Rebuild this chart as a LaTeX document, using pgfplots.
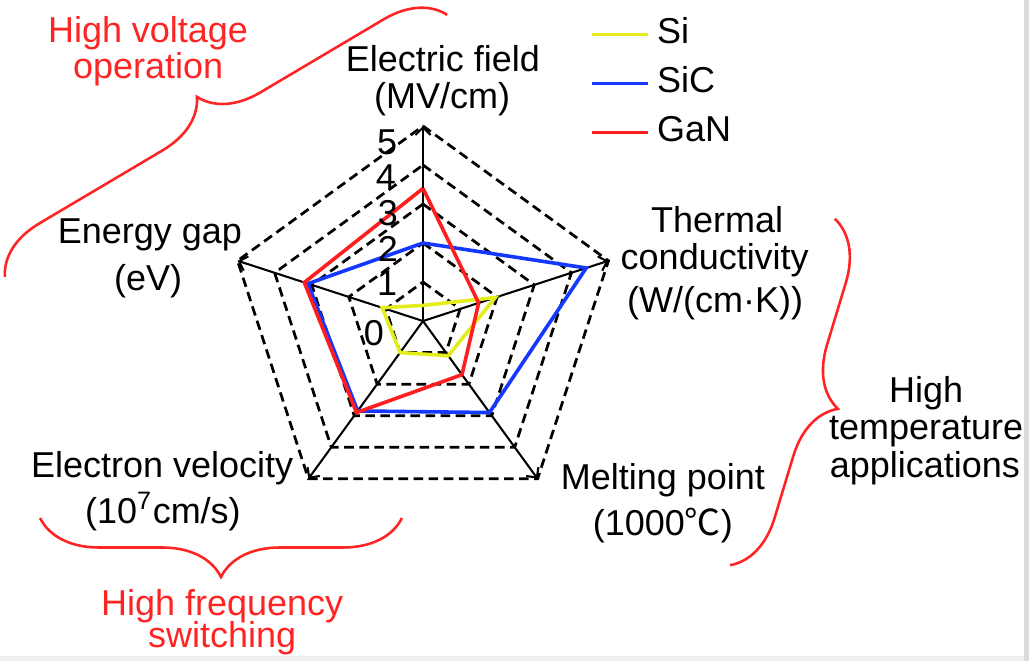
\documentclass[border=0pt]{standalone}
\usepackage{fontspec}
\setmainfont{Liberation Sans}
\newfontfamily\cjk{Noto Sans CJK SC}
\usepackage{pgfplots}
\pgfplotsset{compat=1.18}
\usetikzlibrary{arrows.meta,decorations.pathreplacing}

\definecolor{siY}{HTML}{E4EC1C}
\definecolor{sicB}{HTML}{1438FF}
\definecolor{ganR}{HTML}{FF1E1E}
\definecolor{noteR}{HTML}{FF2424}

\begin{document}
\begin{tikzpicture}[font=\fontsize{10.5}{12}\selectfont]
\begin{axis}[
    x=0.4cm, y=0.4cm,
    xmin=-10.846, xmax=15.538, ymin=-8.692, ymax=8.231,
    hide axis,
    no markers,
    legend style={at={(axis cs:4.28,7.79)}, anchor=north west, draw=none, fill=none,
        inner sep=0pt, row sep=4.6pt, column sep=2.3pt,
        nodes={inner sep=0pt, text height=7.5pt, text depth=2.2pt}},
    legend image code/.code={\draw[#1] (0cm,0cm) -- (0.565cm,0cm);},
    legend cell align=left,
]
% light border strips of the scan
\fill[black!14] (axis cs:15.41,-9) rectangle (axis cs:16,9);
\fill[black!6] (axis cs:-11,-9) rectangle (axis cs:15.41,-8.59);

% grid pentagons (angle, radius)
\pgfplotsset{ring/.style={data cs=polar, black, line width=0.8pt,
    dash pattern=on 2.8pt off 1.6pt, forget plot}}
\addplot[ring] coordinates {(90,1) (18,1) (-54,1) (-126,1) (162,1) (90,1)};
\addplot[ring] coordinates {(90,2) (18,2) (-54,2) (-126,2) (162,2) (90,2)};
\addplot[ring] coordinates {(90,3) (18,3) (-54,3) (-126,3) (162,3) (90,3)};
\addplot[ring] coordinates {(90,4) (18,4) (-54,4) (-126,4) (162,4) (90,4)};
\addplot[ring] coordinates {(90,5) (18,5) (-54,5) (-126,5) (162,5) (90,5)};

% spokes
\pgfplotsset{spoke/.style={data cs=polar, black, line width=0.6pt,
    -{Straight Barb[length=2.2pt,width=4.4pt]}, forget plot}}
\addplot[spoke] coordinates {(90,0) (90,5)};
\addplot[spoke] coordinates {(18,0) (18,5)};
\addplot[spoke] coordinates {(-54,0) (-54,5)};
\addplot[spoke] coordinates {(-126,0) (-126,5)};
\addplot[spoke] coordinates {(162,0) (162,5)};

% materials: electric field, thermal cond., melting point, electron velocity, energy gap
\addplot[data cs=polar, siY, line width=1.05pt]
    coordinates {(90,0.4) (18,1.95) (-54,1.1) (-126,1.0) (162,1.1) (90,0.4)};
\addlegendentry{Si}
\addplot[data cs=polar, sicB, line width=1.05pt]
    coordinates {(90,2.0) (18,4.4) (-54,2.9) (-126,2.85) (162,3.1) (90,2.0)};
\addlegendentry{SiC}
\addplot[data cs=polar, ganR, line width=1.05pt]
    coordinates {(90,3.4) (18,1.5) (-54,1.7) (-126,2.9) (162,3.2) (90,3.4)};
\addlegendentry{GaN}

% radial scale
\node at (axis cs:-0.92,4.59) {5};
\node at (axis cs:-0.95,3.69) {4};
\node at (axis cs:-0.90,2.77) {3};
\node at (axis cs:-0.90,1.85) {2};
\node at (axis cs:-0.92,0.97) {1};
\node at (axis cs:-1.26,-0.31) {0};

% axis names
\node[anchor=base] at (axis cs:0.51,6.41) {Electric field};
\node[anchor=base] at (axis cs:0.49,5.44) {(MV/cm)};
\node[anchor=base] at (axis cs:7.54,2.26) {Thermal};
\node[anchor=base] at (axis cs:7.48,1.31) {conductivity};
\node[anchor=base] at (axis cs:7.49,0.23) {(W/(cm·K))};
\node[anchor=base] at (axis cs:-7.0,2.0) {Energy gap};
\node[anchor=base] at (axis cs:-7.05,0.79) {(eV)};
\node[anchor=base] at (axis cs:-6.69,-4.0) {Electron velocity};
\node[anchor=base] at (axis cs:-6.67,-5.18) {(10\textsuperscript{7}cm/s)};
\node[anchor=base] at (axis cs:6.15,-4.33) {Melting point};
\node[anchor=base] at (axis cs:6.15,-5.51) {(1000{\cjk ℃})};

% application groups
\node[anchor=base, noteR] at (axis cs:-7.05,7.13) {High voltage};
\node[anchor=base, noteR] at (axis cs:-7.05,6.23) {operation};
\node[anchor=base, noteR] at (axis cs:-5.15,-7.56) {High frequency};
\node[anchor=base, noteR] at (axis cs:-5.15,-8.38) {switching};
\node[anchor=base] at (axis cs:12.9,-2.1) {High};
\node[anchor=base] at (axis cs:12.9,-3.05) {temperature};
\node[anchor=base] at (axis cs:12.87,-4.0) {applications};

\draw[noteR, line width=0.75pt, decorate, decoration={brace, amplitude=0.585cm}]
    (axis cs:-10.72,1.13) -- (axis cs:0.62,7.85);
\draw[noteR, line width=0.75pt, decorate, decoration={brace, amplitude=0.605cm}]
    (axis cs:-0.54,-5.05) -- (axis cs:-9.82,-5.05);
\draw[noteR, line width=0.75pt, decorate, decoration={brace, amplitude=0.595cm}]
    (axis cs:10.56,2.62) -- (axis cs:7.87,-6.26);

\coordinate (bl) at (rel axis cs:0,0);
\coordinate (tr) at (rel axis cs:1,1);
\end{axis}
\pgfresetboundingbox
\path[use as bounding box] (bl) rectangle (tr);
\end{tikzpicture}
\end{document}
